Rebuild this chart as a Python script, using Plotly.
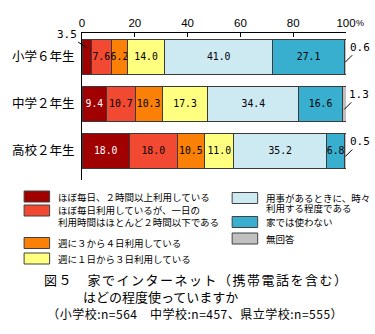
import plotly.graph_objects as go

# ---- data -------------------------------------------------------------
grades = ["小学６年生", "中学２年生", "高校２年生"]

labels = [
    "ほぼ毎日、２時間以上利用している",
    "ほぼ毎日利用しているが、一日の<br>利用時間はほとんど２時間以下である",
    "週に３から４日利用している",
    "週に１日から３日利用している",
    "用事があるときに、時々<br>利用する程度である",
    "家では使わない",
    "無回答",
]

daily_2h_plus = [3.5, 9.4, 18.0]
daily_under_2h = [7.6, 10.7, 18.0]
days_3_4 = [6.2, 10.3, 10.5]
days_1_3 = [14.0, 17.3, 11.0]
sometimes = [41.0, 34.4, 35.2]
never_home = [27.1, 16.6, 6.8]
no_answer = [0.6, 1.3, 0.5]

series = [daily_2h_plus, daily_under_2h, days_3_4, days_1_3,
          sometimes, never_home, no_answer]

x_ticks = [0, 20, 40, 60, 80, 100]
x_ticktext = ["0", "20", "40", "60", "80", "100"]

title_lines = [
    "図５　家でインターネット（携帯電話を含む）",
    "はどの程度使っていますか",
    "（小学校:n=564　中学校:n=457、県立学校:n=555）",
]

# ---- styling -----------------------------------------------------------
colors = ["#A00000", "#F24A32", "#FA8008", "#FFFF80",
          "#CDE9F2", "#38AFCF", "#C0C0C0"]
text_colors = ["white", "black", "black", "black", "black", "black", "black"]

W, H = 375, 334
ML, MR, MT, MB = 77, 29, 33, 154
PW, PH = W - ML - MR, H - MT - MB

JP = "Noto Sans CJK JP"
NUM = "DejaVu Sans Mono"


def fx(px):
    return (px - ML) / PW


def fy(py):
    return (H - MB - py) / PH


SMALL = 5.0  # segments narrower than this get an outside label

fig = go.Figure()
for i, vals in enumerate(series):
    txt = ["" if v < SMALL else f"{v:.1f}" for v in vals]
    fig.add_trace(go.Bar(
        y=grades, x=vals, orientation="h", name=labels[i],
        marker=dict(color=colors[i], line=dict(color="#3a3a3a", width=1)),
        text=txt, textposition="inside", insidetextanchor="middle",
        constraintext="none", textangle=0,
        textfont=dict(family=NUM, size=9.8, color=text_colors[i]),
        width=0.74, showlegend=False, hoverinfo="skip",
    ))

annotations = []
shapes = []

# outside labels with leader lines for the thin segments
for i, vals in enumerate(series):
    cum = [sum(s[r] for s in series[:i]) for r in range(len(grades))]
    for r, v in enumerate(vals):
        if v >= SMALL:
            continue
        if i == 0:
            pos = dict(y=r - 0.19, ax=-20, ay=-13)
        else:
            pos = dict(y=r + 0.12, ax=15, ay=-15)
        annotations.append(dict(
            x=cum[r] + v / 2, xref="x", yref="y",
            text=f"{v:.1f}", showarrow=True, arrowhead=0, arrowwidth=1,
            arrowcolor="black", standoff=0,
            font=dict(family=NUM, size=11, color="black"), **pos))

# "%" after the 100 tick
annotations.append(dict(x=100, y=1, xref="x", yref="paper", yshift=10,
                        text="%", showarrow=False, xanchor="left",
                        yanchor="middle", xshift=8,
                        font=dict(family="Liberation Sans", size=9,
                                  color="black")))

# legend, two columns: (swatch left, swatch centre, first text line centre)
legend_pos = [
    (18, 196.5, 196.5),
    (18, 210.5, 210.5),
    (18, 243, 243),
    (18, 258.5, 258.5),
    (230, 198, 197.5),
    (230, 222, 222),
    (230, 238.5, 238.5),
]
LINE_STEP = 11
for i, (sx, sy, ty) in enumerate(legend_pos):
    shapes.append(dict(type="rect", xref="paper", yref="paper",
                       x0=fx(sx), x1=fx(sx + 26), y0=fy(sy - 5.5),
                       y1=fy(sy + 5.5), fillcolor=colors[i],
                       line=dict(color="#404040", width=1)))
    for k, part in enumerate(labels[i].split("<br>")):
        annotations.append(dict(
            x=fx(sx + 32), y=fy(ty + k * LINE_STEP), xref="paper",
            yref="paper", xanchor="left", yanchor="middle", align="left",
            text=part, showarrow=False,
            font=dict(family=JP, size=9.5, color="black")))

# caption, three lines in one block
caption = (
    f'<span style="letter-spacing:1.5px">{title_lines[0]}</span><br>'
    f'　　　{title_lines[1]}<br>'
    f'<span style="font-size:12px;letter-spacing:0.5px"> {title_lines[2]}</span>'
)
annotations.append(dict(
    x=fx(36), y=fy(295.5), xref="paper", yref="paper", xanchor="left",
    yanchor="middle", align="left", text=caption, showarrow=False,
    font=dict(family=JP, size=13, color="black")))

fig.update_layout(
    width=W, height=H, barmode="stack", bargap=0.26,
    margin=dict(l=ML, r=MR, t=MT, b=MB, pad=0),
    paper_bgcolor="white", plot_bgcolor="white",
    annotations=annotations, shapes=shapes,
    xaxis=dict(side="top", range=[0, 100], tickvals=x_ticks,
               ticktext=x_ticktext, ticks="inside", ticklen=4,
               tickcolor="black", showline=True, linecolor="black",
               linewidth=1, showgrid=False, zeroline=False, fixedrange=True,
               tickfont=dict(family="Liberation Sans", size=11.5,
                             color="black")),
    yaxis=dict(type="category", categoryarray=grades,
               autorange="reversed", showline=True, linecolor="black",
               linewidth=1, showgrid=False, zeroline=False, ticks="",
               ticklabelstandoff=4,
               tickfont=dict(family=JP, size=12.5, color="black")),
)

fig.write_html("out.html")
